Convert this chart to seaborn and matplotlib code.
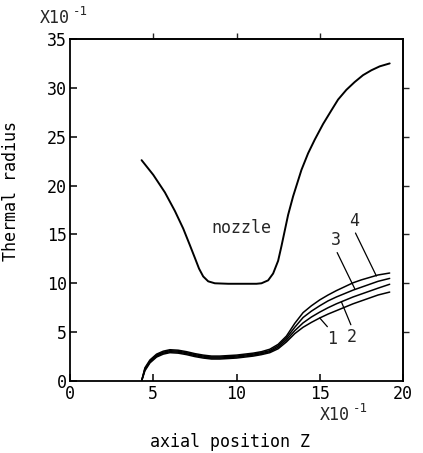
import numpy as np
import pandas as pd
import matplotlib
matplotlib.use("Agg")
import matplotlib.pyplot as plt
import seaborn as sns

# Nozzle wall contour
nozzle_z = [4.3, 5.0, 5.7, 6.3, 6.8, 7.2, 7.5, 7.75, 8.0, 8.3, 8.7, 9.5, 10.5, 11.2, 11.5,
            11.9, 12.2, 12.5, 12.7, 12.9, 13.1, 13.4, 13.9, 14.3, 14.7, 15.2, 15.7, 16.1,
            16.6, 17.1, 17.6, 18.1, 18.6, 19.2]
nozzle_r = [22.6, 21.1, 19.3, 17.4, 15.6, 13.9, 12.6, 11.5, 10.7, 10.2, 10.0, 9.95, 9.95, 9.95, 10.0,
            10.3, 11.0, 12.3, 13.8, 15.4, 17.0, 18.9, 21.6, 23.3, 24.7, 26.3, 27.7, 28.8,
            29.8, 30.6, 31.3, 31.8, 32.2, 32.5]

# Thermal radius of the four cases along the axis
z = [4.3, 4.5, 4.8, 5.2, 5.6, 6.0, 6.5, 7.0, 7.5, 8.0, 8.5, 9.0, 9.5, 10.0, 10.5, 11.0,
     11.5, 12.0, 12.5, 13.0, 13.5, 14.0, 14.5, 15.0, 15.5, 16.0, 16.5, 17.0, 17.5, 18.0,
     18.5, 19.2]
r1 = [0.0, 1.05, 1.85, 2.45, 2.75, 2.9, 2.85, 2.7, 2.5, 2.35, 2.25, 2.25, 2.3, 2.35, 2.45, 2.55,
      2.7, 2.9, 3.3, 4.0, 4.85, 5.5, 6.0, 6.45, 6.85, 7.2, 7.55, 7.9, 8.2, 8.5, 8.8, 9.1]
r2 = [0.0, 1.15, 1.95, 2.55, 2.85, 3.0, 2.95, 2.8, 2.6, 2.45, 2.35, 2.35, 2.4, 2.45, 2.55, 2.65,
      2.8, 3.0, 3.45, 4.2, 5.15, 5.95, 6.55, 7.05, 7.5, 7.9, 8.25, 8.6, 8.9, 9.2, 9.5, 9.9]
r3 = [0.0, 1.25, 2.05, 2.65, 2.95, 3.1, 3.05, 2.9, 2.7, 2.55, 2.45, 2.45, 2.5, 2.55, 2.65, 2.75,
      2.9, 3.1, 3.6, 4.4, 5.5, 6.5, 7.15, 7.7, 8.2, 8.6, 8.95, 9.3, 9.6, 9.9, 10.2, 10.5]
r4 = [0.0, 1.35, 2.15, 2.75, 3.05, 3.2, 3.15, 3.0, 2.8, 2.65, 2.55, 2.55, 2.6, 2.65, 2.75, 2.85,
      3.0, 3.25, 3.75, 4.6, 5.9, 7.0, 7.7, 8.3, 8.8, 9.25, 9.65, 10.05, 10.35, 10.6, 10.85, 11.05]

x_ticks = [0, 5, 10, 15, 20]
y_ticks = [0, 5, 10, 15, 20, 25, 30, 35]

sns.set_theme(style="ticks")
plt.rcParams["font.family"] = ["DejaVu Sans Mono", "DejaVu Sans"]
FS = 12

fig = plt.figure(figsize=(4.23, 4.53), dpi=100)
ax = fig.add_axes([70 / 423, 1 - 381 / 453, 333 / 423, 342 / 453])

nozzle = pd.DataFrame({"z": nozzle_z, "r": nozzle_r})
sns.lineplot(data=nozzle, x="z", y="r", ax=ax, color="black", lw=1.4,
             sort=False, estimator=None)

cases = pd.concat(
    [pd.DataFrame({"z": z, "r": r, "case": str(i + 1)}) for i, r in enumerate([r1, r2, r3, r4])],
    ignore_index=True)
sns.lineplot(data=cases, x="z", y="r", units="case", estimator=None, ax=ax,
             color="black", lw=1.1, sort=False, legend=False)

ax.set_xlim(0, 20)
ax.set_ylim(0, 35)
ax.set_xticks(x_ticks)
ax.set_yticks(y_ticks)
ax.set_xticklabels([str(t) for t in x_ticks])
ax.set_yticklabels([str(t) for t in y_ticks])
ax.tick_params(axis="both", direction="in", length=5, width=1.1, labelsize=FS,
               colors="black", pad=2)
ax.tick_params(axis="y", pad=2)
ax.tick_params(axis="x", pad=3)
for s in ax.spines.values():
    s.set_visible(True)
    s.set_linewidth(1.3)
    s.set_color("black")

top = ax.secondary_xaxis("top")
top.set_xticks([5, 10, 15])
top.tick_params(direction="out", length=4, width=1.0, labeltop=False)
right = ax.secondary_yaxis("right")
right.set_yticks([5, 10, 15, 20, 25, 30])
right.tick_params(direction="out", length=4, width=1.0, labelright=False)

ax.set_xlabel("axial position Z", fontsize=FS, color="black")
ax.xaxis.set_label_coords(0.48, -0.152)
ax.set_ylabel("Thermal radius", fontsize=FS, color="black")
ax.yaxis.set_label_coords(-0.15, 0.556)

# scale factor notes
fig.text(40 / 423, 1 - 23 / 453, "X10", fontsize=FS, va="baseline", ha="left")
fig.text(73 / 423, 1 - 15 / 453, "-1", fontsize=9, va="baseline", ha="left")
fig.text(320 / 423, 1 - 420 / 453, "X10", fontsize=FS, va="baseline", ha="left")
fig.text(353 / 423, 1 - 412 / 453, "-1", fontsize=9, va="baseline", ha="left")

ax.text(10.27, 15.66, "nozzle", fontsize=FS, ha="center", va="center")

leader = dict(arrowstyle="-", lw=0.9, color="black", shrinkA=0, shrinkB=0)
ax.annotate("1", xy=(15.0, 6.45), xytext=(15.75, 4.3), fontsize=FS, ha="center",
            va="center", arrowprops=dict(leader, relpos=(0.3, 1.0)))
ax.annotate("2", xy=(16.3, 8.1), xytext=(16.95, 4.5), fontsize=FS, ha="center",
            va="center", arrowprops=dict(leader, relpos=(0.5, 1.0)))
ax.annotate("3", xy=(17.1, 9.45), xytext=(15.95, 14.4), fontsize=FS, ha="center",
            va="center", arrowprops=dict(leader, relpos=(0.5, 0.0)))
ax.annotate("4", xy=(18.4, 10.75), xytext=(17.05, 16.4), fontsize=FS, ha="center",
            va="center", arrowprops=dict(leader, relpos=(0.5, 0.0)))

fig.savefig("out.png", dpi=100)
